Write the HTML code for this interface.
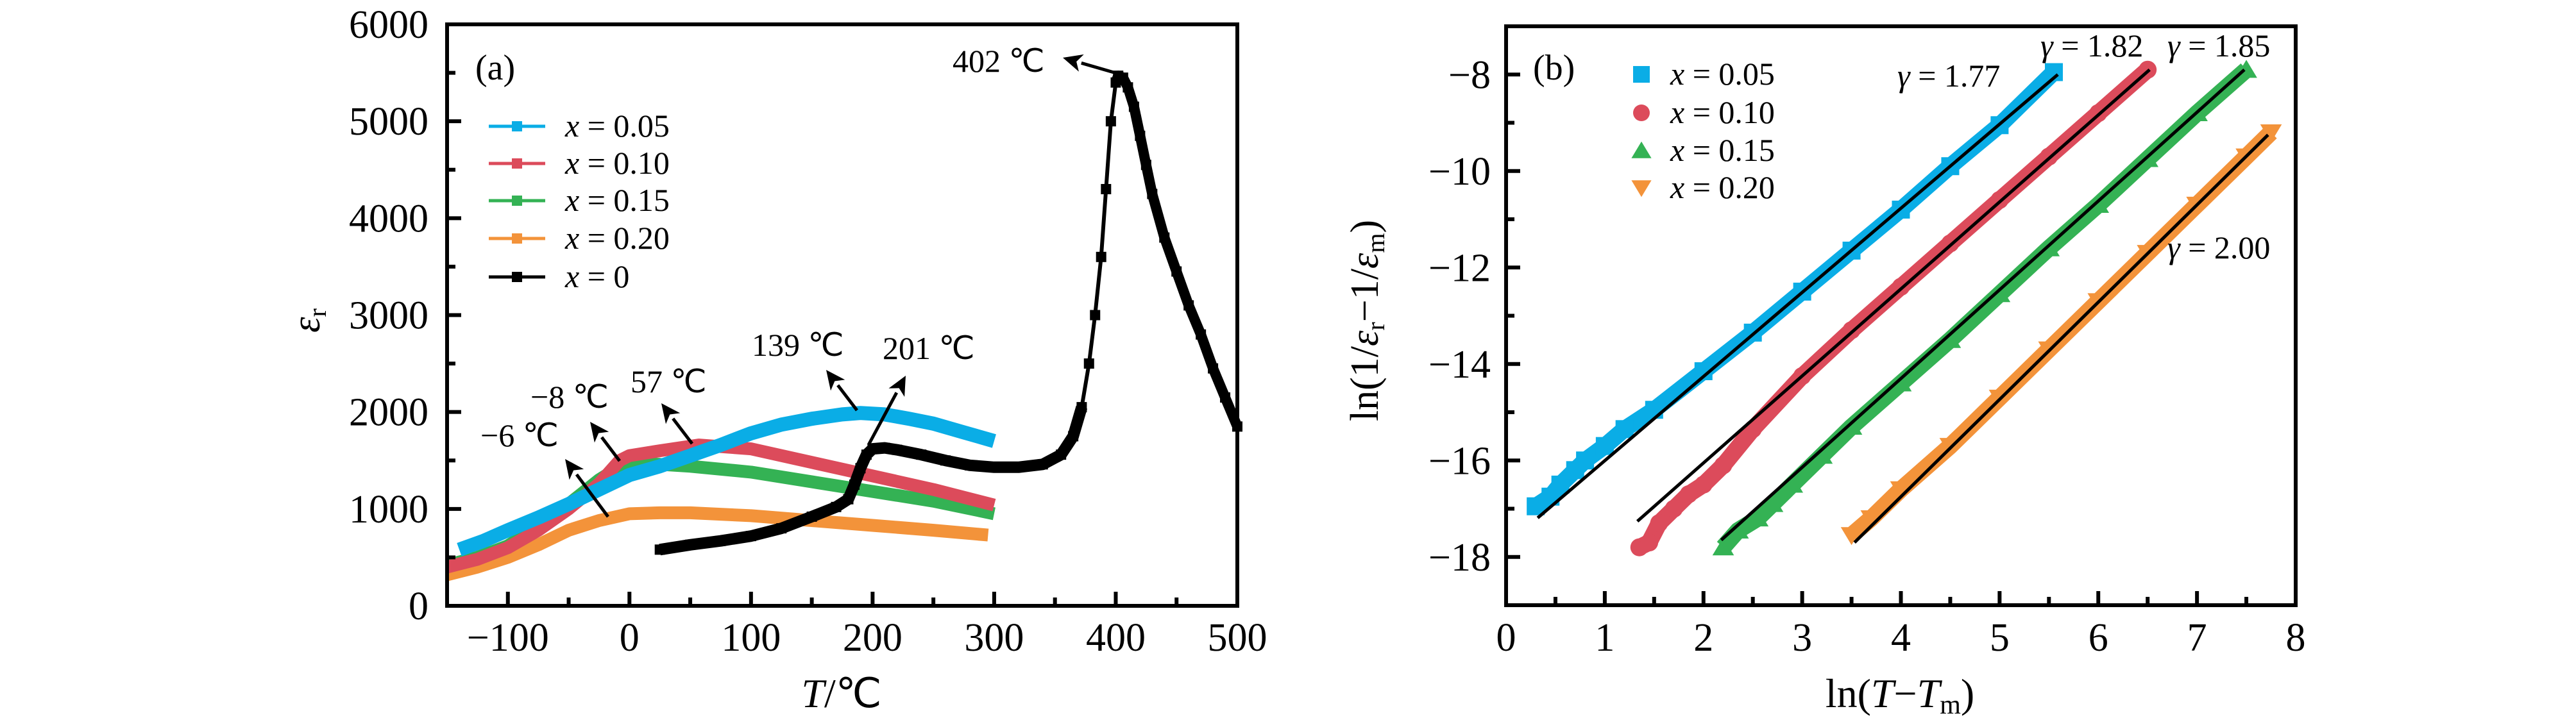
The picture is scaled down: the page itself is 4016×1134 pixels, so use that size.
<!DOCTYPE html>
<html><head><meta charset="utf-8">
<style>
html,body{margin:0;padding:0;background:#fff;}
svg{display:block;font-family:"Liberation Serif",serif;}
</style></head>
<body>
<svg id="chart" width="4016" height="1134" viewBox="0 0 4016 1134" xmlns="http://www.w3.org/2000/svg">
<g id="pa"></g>
<g id="pb"></g>
</svg>
<script>
// ---------- Panel (a) data ----------
const aXTicks = [-100, 0, 100, 200, 300, 400, 500];
const aYTicks = [0, 1000, 2000, 3000, 4000, 5000, 6000];
const aT005 = [-140,-120,-100,-75,-50,-25,0,25,50,75,100,125,150,175,190,210,230,250,275,300];
const aE005 = [580,670,780,910,1050,1200,1350,1440,1550,1660,1780,1870,1930,1975,1990,1975,1930,1880,1790,1700];
const aT010 = [-150,-125,-100,-75,-50,-25,-8,0,25,57,100,150,200,250,300];
const aE010 = [400,480,600,780,1000,1260,1500,1550,1600,1660,1620,1480,1340,1200,1040];
const aT015 = [-150,-125,-100,-75,-50,-25,-6,0,25,50,100,150,200,250,300];
const aE015 = [420,500,620,820,1050,1300,1450,1470,1460,1440,1380,1280,1180,1080,950];
const aT020 = [-150,-125,-100,-75,-50,-25,0,25,50,100,150,200,250,295];
const aE020 = [320,400,500,630,780,880,950,960,960,930,880,830,780,730];
const aT000 = [25,50,75,100,125,150,170,180,185,190,195,200,210,220,240,260,280,300,320,340,355,365,372,378,383,388,392,396,400,402,406,410,415,420,425,430,440,450,460,470,480,490,500];
const aE000 = [580,630,670,720,800,920,1020,1100,1250,1420,1560,1620,1630,1610,1560,1500,1450,1430,1430,1460,1560,1750,2050,2500,3000,3600,4300,5000,5400,5470,5450,5350,5150,4850,4550,4250,3800,3450,3100,2800,2450,2150,1850];
const aLegend = ["x = 0.05","x = 0.10","x = 0.15","x = 0.20","x = 0"];
const aColors = ["#0aade6","#dc4b5b","#34b254","#f3933a","#000000"];
const aNotes = ["402 ℃","201 ℃","139 ℃","57 ℃","−8 ℃","−6 ℃"];

// ---------- Panel (b) data ----------
const bXTicks = [0,1,2,3,4,5,6,7,8];
const bYTicks = [-8,-10,-12,-14,-16,-18];
const bX005 = [0.3,0.45,0.55,0.7,0.8,1.0,1.2,1.5,2.0,2.5,3.0,3.5,4.0,4.5,5.0,5.55];
const bY005 = [-16.95,-16.75,-16.5,-16.2,-16.0,-15.7,-15.35,-14.95,-14.15,-13.35,-12.5,-11.65,-10.8,-9.9,-9.05,-7.95];
const bX010 = [1.35,1.45,1.55,1.7,1.85,2.0,2.2,2.5,3.0,3.5,4.0,4.5,5.0,5.5,6.0,6.5];
const bY010 = [-17.8,-17.7,-17.3,-17.0,-16.7,-16.5,-16.1,-15.35,-14.25,-13.3,-12.4,-11.5,-10.6,-9.7,-8.8,-7.9];
const bX015 = [2.2,2.35,2.55,2.7,2.9,3.2,3.5,4.0,4.5,5.0,5.5,6.0,6.5,7.0,7.5];
const bY015 = [-17.8,-17.45,-17.2,-16.9,-16.5,-15.9,-15.3,-14.4,-13.5,-12.55,-11.6,-10.7,-9.75,-8.8,-7.9];
const bX020 = [3.5,3.7,4.0,4.5,5.0,5.5,6.0,6.5,7.0,7.5,7.75];
const bY020 = [-17.55,-17.2,-16.6,-15.7,-14.7,-13.7,-12.7,-11.7,-10.7,-9.7,-9.2];
const bFitX0 = [0.32,1.33,2.18,3.53];
const bFitY0 = [-17.19,-17.26,-17.65,-17.7];
const bFitX1 = [5.59,6.52,7.48,7.72];
const bFitY1 = [-8.0,-7.9,-7.9,-9.25];
const bGamma = ["γ = 1.77","γ = 1.82","γ = 1.85","γ = 2.00"];
const bLegend = ["x = 0.05","x = 0.10","x = 0.15","x = 0.20"];

const NS = "http://www.w3.org/2000/svg";
function mk(parent, tag, attrs, text){
  const e = document.createElementNS(NS, tag);
  for (const k in attrs) e.setAttribute(k, attrs[k]);
  if (text !== undefined) e.textContent = text;
  parent.appendChild(e);
  return e;
}

// ---------- Panel (a) ----------
const pa = document.getElementById('pa');
const aL=697, aR=1929, aT=38, aB=945;
const ax = t => aL + (t + 150) / 650 * (aR - aL);
const ay = v => aB - v / 6000 * (aB - aT);

function aSeries(ts, es, color, name, width){
  const g = mk(pa, 'g', {});
  
  
  const pts = ts.map((t,i)=>ax(t).toFixed(1)+','+ay(es[i]).toFixed(1)).join(' ');
  mk(g, 'polyline', {points: pts, fill:'none', stroke: color, 'stroke-width': width, 'stroke-linejoin':'round'});
  return g;
}
aSeries(aT020, aE020, aColors[3], 'series-x-0.20', 20);
aSeries(aT015, aE015, aColors[2], 'series-x-0.15', 20);
aSeries(aT010, aE010, aColors[1], 'series-x-0.10', 20);
aSeries(aT005, aE005, aColors[0], 'series-x-0.05', 22);
const g0 = aSeries(aT000, aE000, '#000', 'series-x-0', 6);
// thick tails for black curve (dense markers region)
mk(g0, 'polyline', {points: aT000.map((t,i)=>(aE000[i]<2200||t>=402)?ax(t).toFixed(1)+','+ay(aE000[i]).toFixed(1):null).filter((p,i)=>p&&aT000[i]<=372).join(' '), fill:'none', stroke:'#000','stroke-width':18,'stroke-linejoin':'round'});
mk(g0, 'polyline', {points: aT000.map((t,i)=>t>=400?ax(t).toFixed(1)+','+ay(aE000[i]).toFixed(1):null).filter(p=>p).join(' '), fill:'none', stroke:'#000','stroke-width':16,'stroke-linejoin':'round'});
aT000.forEach((t,i)=>{
  const m = mk(g0, 'rect', {x: ax(t)-8, y: ay(aE000[i])-8, width:16, height:16, fill:'#000'});
  
  
});

// frame
const fa = mk(pa, 'rect', {x:aL, y:aT, width:aR-aL, height:aB-aT, fill:'none', stroke:'#000', 'stroke-width':6});


// x ticks
for (let t=-100; t<=500; t+=50){
  const major = t % 100 === 0;
  mk(pa,'line',{x1:ax(t),x2:ax(t),y1:aB,y2:aB-(major?22:13),stroke:'#000','stroke-width':6});
}
aXTicks.forEach(t=>{
  const lab = mk(pa,'text',{x:ax(t), y:1015, 'font-size':62, 'text-anchor':'middle'}, t<0?('−'+Math.abs(t)):String(t));
  
  
});
for (let v=500; v<6000; v+=500){
  const major = v % 1000 === 0;
  mk(pa,'line',{x1:aL,x2:aL+(major?22:13),y1:ay(v),y2:ay(v),stroke:'#000','stroke-width':6});
}
aYTicks.forEach(v=>{
  const lab = mk(pa,'text',{x:668, y:ay(v)+21, 'font-size':62, 'text-anchor':'end'}, String(v));
  
  
});
const xla = mk(pa,'text',{x:1312, y:1103, 'font-size':64, 'text-anchor':'middle'});
xla.innerHTML = '<tspan font-style="italic">T</tspan>/℃';


const yla = mk(pa,'text',{x:0,y:0,'font-size':62,'text-anchor':'middle',transform:'translate(498,500) rotate(-90)'});
yla.innerHTML = '<tspan font-style="italic">ε</tspan><tspan font-size="40" dy="10">r</tspan>';


const pla = mk(pa,'text',{x:741,y:124,'font-size':56},'(a)');


// legend a
const legA = mk(pa,'g',{});


const legAy = [197,255,313,372,432];
aLegend.forEach((s,i)=>{
  const e = mk(legA,'g',{});
  
  
  mk(e,'line',{x1:762,x2:850,y1:legAy[i],y2:legAy[i],stroke:aColors[i],'stroke-width':5});
  mk(e,'rect',{x:798,y:legAy[i]-8,width:16,height:16,fill:aColors[i]});
  const tx = mk(e,'text',{x:881,y:legAy[i]+16,'font-size':50});
  const parts = s.split(' = ');
  tx.innerHTML = '<tspan font-style="italic">x</tspan> = '+parts[1];
});
// annotations a
function arrow(g,x1,y1,x2,y2){
  const dx=x2-x1, dy=y2-y1, L=Math.hypot(dx,dy), ux=dx/L, uy=dy/L;
  const hx=x2-ux*30, hy=y2-uy*30;
  mk(g,'line',{x1:x1,y1:y1,x2:hx,y2:hy,stroke:'#000','stroke-width':5});
  mk(g,'polygon',{points:`${x2},${y2} ${hx-uy*14},${hy+ux*14} ${x2-ux*22},${y2-uy*22} ${hx+uy*14},${hy-ux*14}`,fill:'#000'});
}
const notePos = [[1485,112],[1376,560],[1172,555],[983,612],[827,636],[749,696]];
const arrows = [[1740,114,1657,90],[1354,694,1412,586],[1336,640,1288,577],[1079,692,1031,629],[966,719,920,658],[948,806,881,716]];
aNotes.forEach((s,i)=>{
  const g = mk(pa,'g',{});
  
  
  mk(g,'text',{x:notePos[i][0],y:notePos[i][1],'font-size':50},s);
  arrow(g,...arrows[i]);
});

// ---------- Panel (b) ----------
const pb = document.getElementById('pb');
const bL=2348, bR=3579, bT=41, bB=944;
const bx = v => bL + v/8*(bR-bL);
const by = v => bT + (-7 - v)/12*(bB-bT);
const bColors = ["#0aade6","#dc4b5b","#34b254","#f3933a"];
const bXs=[bX005,bX010,bX015,bX020], bYs=[bY005,bY010,bY015,bY020];
function marker(g,type,x,y,c,s){
  if(type===0) return mk(g,'rect',{x:x-s/2,y:y-s/2,width:s,height:s,fill:c});
  if(type===1) return mk(g,'circle',{cx:x,cy:y,r:s/2,fill:c});
  if(type===2) return mk(g,'polygon',{points:`${x},${y-s*0.55} ${x-s*0.6},${y+s*0.45} ${x+s*0.6},${y+s*0.45}`,fill:c});
  return mk(g,'polygon',{points:`${x},${y+s*0.55} ${x-s*0.6},${y-s*0.45} ${x+s*0.6},${y-s*0.45}`,fill:c});
}
bXs.forEach((xs,k)=>{
  const g = mk(pb,'g',{});
  
  
  const ys=bYs[k];
  mk(g,'polyline',{points: xs.map((v,i)=>bx(v).toFixed(1)+','+by(ys[i]).toFixed(1)).join(' '),fill:'none',stroke:bColors[k],'stroke-width':26,'stroke-linejoin':'round','stroke-linecap':k===1?'round':'butt'});
  xs.forEach((v,i)=>{
    const m = marker(g,k,bx(v),by(ys[i]),bColors[k],28);
    
    
  });
});
bFitX0.forEach((x0,k)=>{
  const l = mk(pb,'line',{x1:bx(x0),y1:by(bFitY0[k]),x2:bx(bFitX1[k]),y2:by(bFitY1[k]),stroke:'#000','stroke-width':5});
  
  
});
const fb = mk(pb,'rect',{x:bL,y:bT,width:bR-bL,height:bB-bT,fill:'none',stroke:'#000','stroke-width':6});


for (let v=0.5; v<8; v+=0.5){
  const major = Math.abs(v-Math.round(v))<1e-6;
  mk(pb,'line',{x1:bx(v),x2:bx(v),y1:bB,y2:bB-(major?22:13),stroke:'#000','stroke-width':6});
}
bXTicks.forEach(v=>{
  const lab = mk(pb,'text',{x:bx(v),y:1015,'font-size':62,'text-anchor':'middle'},String(v));
  
  
});
for (let v=-8; v>=-19; v-=1){
  const major = v%2===0;
  mk(pb,'line',{x1:bL,x2:bL+(major?22:13),y1:by(v),y2:by(v),stroke:'#000','stroke-width':6});
}
bYTicks.forEach(v=>{
  const lab = mk(pb,'text',{x:2324,y:by(v)+21,'font-size':62,'text-anchor':'end'},'−'+Math.abs(v));
  
  
});
const xlb = mk(pb,'text',{x:2962,y:1103,'font-size':64,'text-anchor':'middle'});
xlb.innerHTML = 'ln(<tspan font-style="italic">T</tspan>−<tspan font-style="italic">T</tspan><tspan font-size="42" dy="10">m</tspan><tspan dy="-10">)</tspan>';


const ylb = mk(pb,'text',{x:0,y:0,'font-size':62,'text-anchor':'middle',transform:'translate(2148,500) rotate(-90)'});
ylb.innerHTML = 'ln(1/<tspan font-style="italic">ε</tspan><tspan font-size="40" dy="10">r</tspan><tspan dy="-10">−1/</tspan><tspan font-style="italic">ε</tspan><tspan font-size="40" dy="10">m</tspan><tspan dy="-10">)</tspan>';


const plb = mk(pb,'text',{x:2390,y:124,'font-size':56},'(b)');


const legB = mk(pb,'g',{});


const legBy=[116,176,235,293];
bLegend.forEach((s,i)=>{
  const e = mk(legB,'g',{});
  
  
  marker(e,i,2559,legBy[i],bColors[i],26);
  const tx = mk(e,'text',{x:2604,y:legBy[i]+16,'font-size':50});
  tx.innerHTML = '<tspan font-style="italic">x</tspan> = '+s.split(' = ')[1];
});
const gPos=[[2958,135],[3181,88],[3379,88],[3379,403]];
bGamma.forEach((s,i)=>{
  const t = mk(pb,'text',{x:gPos[i][0],y:gPos[i][1],'font-size':50});
  t.innerHTML = '<tspan font-style="italic">γ</tspan> = '+s.split(' = ')[1];
  
  
});
</script>
</body></html>
